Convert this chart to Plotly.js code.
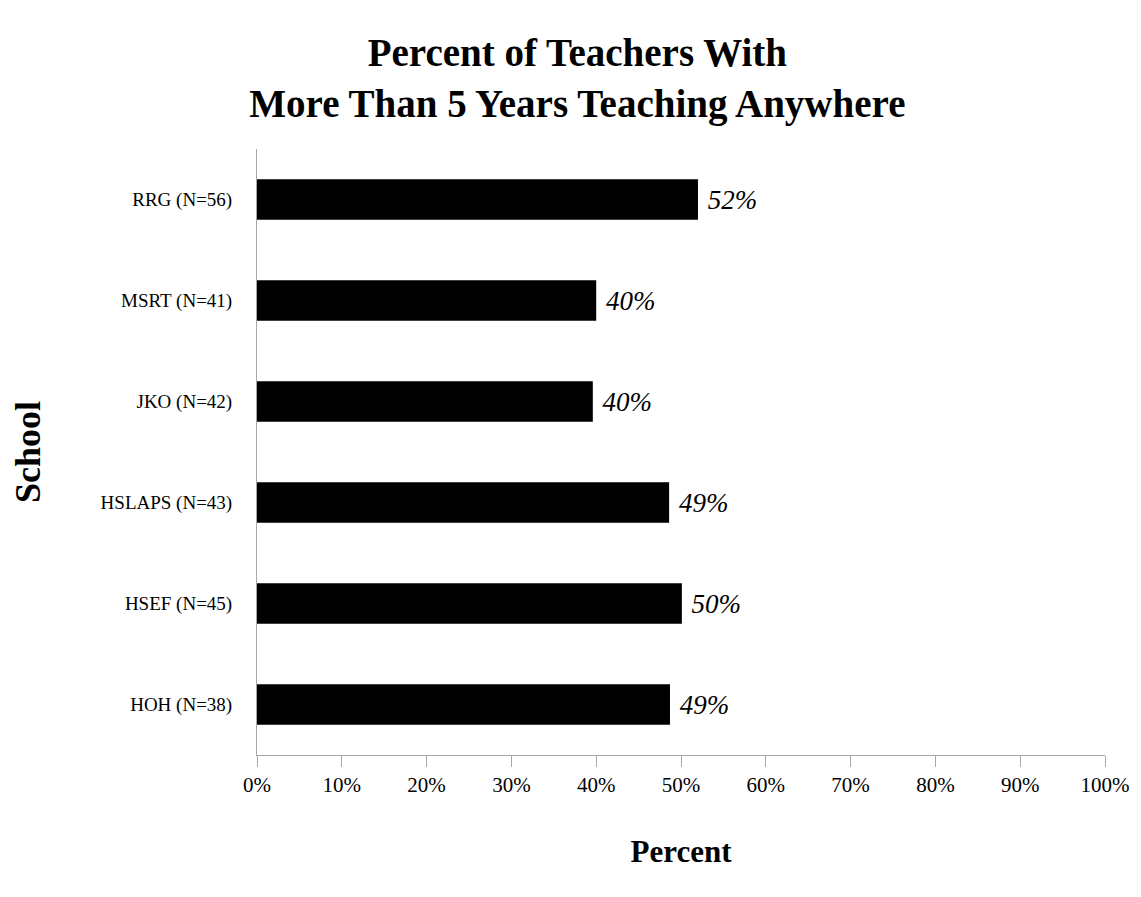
<!DOCTYPE html>
<html>
<head>
<meta charset="utf-8">
<script src="https://cdn.plot.ly/plotly-3.0.1.min.js"></script>
<style>html,body{margin:0;padding:0;background:#fff;}#chart{width:1141px;height:897px;}</style>
</head>
<body>
<div id="chart"></div>
<script>
// Data (top to bottom as shown)
const schools = ["RRG (N=56)", "MSRT (N=41)", "JKO (N=42)", "HSLAPS (N=43)", "HSEF (N=45)", "HOH (N=38)"];
const percents = [52.0, 40.0, 39.6, 48.6, 50.1, 48.7];
const xTickVals = [0, 10, 20, 30, 40, 50, 60, 70, 80, 90, 100];
const xTickLabels = ["0%", "10%", "20%", "30%", "40%", "50%", "60%", "70%", "80%", "90%", "100%"];

const serif = "Liberation Serif, Times New Roman, serif";

const trace = {
  type: 'bar',
  orientation: 'h',
  x: percents,
  y: schools,
  marker: {color: '#000000'},
  texttemplate: ' %{x:.0f}%',
  textposition: 'outside',
  cliponaxis: false,
  textfont: {family: serif, size: 27, color: '#000', style: 'italic'},
  hoverinfo: 'none'
};

const layout = {
  width: 1141,
  height: 897,
  paper_bgcolor: '#ffffff',
  plot_bgcolor: '#ffffff',
  showlegend: false,
  bargap: 0.6,
  margin: {l: 257, r: 36, t: 149, b: 142, pad: 0},
  title: {
    text: '<b>Percent of Teachers With<br>More Than 5 Years Teaching Anywhere</b>',
    font: {family: serif, size: 39, color: '#000'},
    x: 0.506, xref: 'container', xanchor: 'center',
    y: 0.926, yref: 'container', yanchor: 'top'
  },
  xaxis: {
    range: [0, 100],
    tickvals: xTickVals,
    ticktext: xTickLabels,
    ticks: 'outside',
    ticklen: 11,
    tickwidth: 1,
    tickcolor: '#a6a6a6',
    showline: true,
    linecolor: '#a6a6a6',
    linewidth: 1,
    showgrid: false,
    zeroline: false,
    tickfont: {family: serif, size: 21, color: '#000'},
    title: {text: '<b>Percent</b>', font: {family: serif, size: 31, color: '#000'}, standoff: 44},
    automargin: false,
    fixedrange: true
  },
  yaxis: {
    type: 'category',
    range: [5.5, -0.5],
    showline: true,
    linecolor: '#a6a6a6',
    linewidth: 1,
    ticks: '',
    showgrid: false,
    zeroline: false,
    ticklabelstandoff: 20,
    tickfont: {family: serif, size: 19, color: '#000'},
    title: {text: '<b>School</b>', font: {family: serif, size: 36, color: '#000'}, standoff: 49},
    automargin: true,
    fixedrange: true
  }
};

Plotly.newPlot('chart', [trace], layout, {displayModeBar: false, staticPlot: true});
</script>
</body>
</html>
